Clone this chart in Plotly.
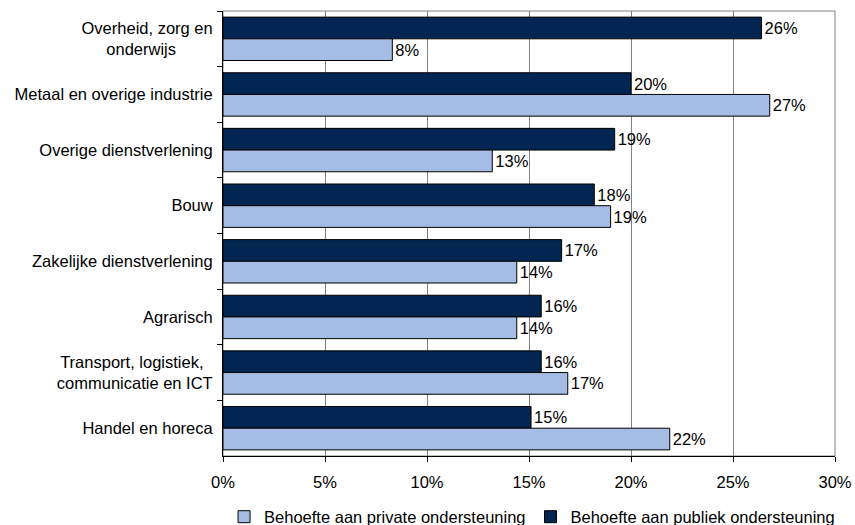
import plotly.graph_objects as go

NBSP = "\u00a0"

# Categories from top to bottom
categories = [
    "Overheid, zorg en<br>onderwijs" + NBSP * 8,
    "Metaal en overige industrie",
    "Overige dienstverlening",
    "Bouw",
    "Zakelijke dienstverlening",
    "Agrarisch",
    "Transport, logistiek," + NBSP * 2 + "<br>communicatie en ICT",
    "Handel en horeca",
]

publiek = [26.4, 20.0, 19.2, 18.2, 16.6, 15.6, 15.6, 15.1]
private = [8.3, 26.8, 13.2, 19.0, 14.4, 14.4, 16.9, 21.9]

name_private = "Behoefte aan private ondersteuning"
name_publiek = "Behoefte aan publiek ondersteuning"

x_ticks = [0, 5, 10, 15, 20, 25, 30]

DARK = "#022651"
LIGHT = "#A5BDE4"
FONT = "Liberation Sans, Arial, sans-serif"
FS = 16.5

fig = go.Figure()
fig.add_trace(go.Bar(
    y=categories, x=publiek, orientation="h", name=name_publiek,
    marker=dict(color=DARK, line=dict(color="black", width=1)),
    texttemplate="%{x:.0f}%", textposition="outside",
    textfont=dict(size=FS, color="black", family=FONT), cliponaxis=False,
))
fig.add_trace(go.Bar(
    y=categories, x=private, orientation="h", name=name_private,
    marker=dict(color=LIGHT, line=dict(color="black", width=1)),
    texttemplate="%{x:.0f}%", textposition="outside",
    textfont=dict(size=FS, color="black", family=FONT), cliponaxis=False,
))

fig.update_layout(
    width=855, height=525,
    margin=dict(l=223, r=20, t=11, b=69, autoexpand=False),
    paper_bgcolor="white", plot_bgcolor="white",
    font=dict(family=FONT, size=FS, color="black"),
    barmode="group", bargap=0.22, bargroupgap=0,
    showlegend=True,
    legend=dict(orientation="h", x=0.505, xanchor="center", y=-0.137, yanchor="middle",
                traceorder="reversed", font=dict(size=FS), itemwidth=30,
                bgcolor="rgba(0,0,0,0)"),
)
fig.update_xaxes(
    range=[0, 30], tickvals=x_ticks, ticktext=[f"{v}%" for v in x_ticks],
    showgrid=True, gridcolor="#808080", gridwidth=1, zeroline=False,
    showline=True, linecolor="black", linewidth=1,
    ticks="outside", ticklen=5, tickcolor="black", ticklabelstandoff=6,
)
fig.update_yaxes(
    autorange="reversed", showgrid=False, zeroline=False,
    showline=True, linecolor="black", linewidth=1,
    ticks="outside", ticklen=5, tickcolor="black", tickson="boundaries",
    ticklabelstandoff=6,
)
fig.add_shape(type="rect", xref="paper", yref="paper", x0=0, x1=1, y0=0, y1=1,
              line=dict(color="#808080", width=1), layer="below")

fig.write_html("out.html")
